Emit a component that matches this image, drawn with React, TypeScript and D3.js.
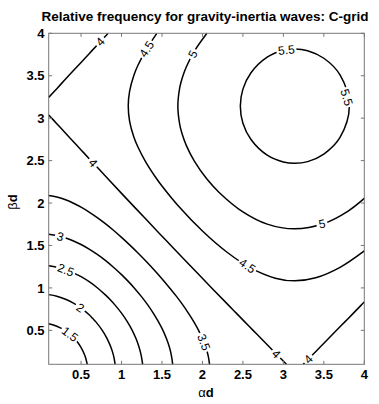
import React from "react";
import * as d3 from "d3";

// Contour levels of the relative frequency ω/f
const levels = [1.5, 2, 2.5, 3, 3.5, 4, 4.5, 5, 5.5];

// Contour lines, as [αd, βd] points
const line15: [number, number][] = [[0.1, 0.577], [0.2, 0.548], [0.3, 0.499], [0.368, 0.45], [0.411, 0.411], [0.45, 0.368], [0.499, 0.3], [0.548, 0.2], [0.577, 0.1]];
const line20: [number, number][] = [[0.1, 0.921], [0.2, 0.902], [0.3, 0.869], [0.4, 0.823], [0.5, 0.762], [0.6, 0.683], [0.642, 0.642], [0.683, 0.6], [0.762, 0.5], [0.823, 0.4], [0.869, 0.3], [0.902, 0.2], [0.921, 0.1]];
const line25: [number, number][] = [[0.1, 1.261], [0.2, 1.244], [0.3, 1.217], [0.4, 1.18], [0.5, 1.132], [0.6, 1.073], [0.7, 1.002], [0.8, 0.918], [0.861, 0.861], [0.918, 0.8], [1.002, 0.7], [1.073, 0.6], [1.132, 0.5], [1.18, 0.4], [1.217, 0.3], [1.244, 0.2], [1.261, 0.1]];
const line30: [number, number][] = [[0.1, 1.632], [0.2, 1.617], [0.3, 1.592], [0.4, 1.556], [0.5, 1.512], [0.6, 1.457], [0.7, 1.394], [0.8, 1.324], [0.9, 1.244], [1.0, 1.157], [1.08, 1.08], [1.157, 1.0], [1.244, 0.9], [1.324, 0.8], [1.394, 0.7], [1.457, 0.6], [1.512, 0.5], [1.556, 0.4], [1.592, 0.3], [1.617, 0.2], [1.632, 0.1]];
const line35: [number, number][] = [[0.1, 2.088], [0.2, 2.071], [0.3, 2.041], [0.4, 2.001], [0.5, 1.952], [0.6, 1.894], [0.7, 1.828], [0.8, 1.757], [0.9, 1.679], [1.0, 1.595], [1.1, 1.507], [1.2, 1.415], [1.309, 1.309], [1.415, 1.2], [1.507, 1.1], [1.595, 1.0], [1.679, 0.9], [1.757, 0.8], [1.828, 0.7], [1.894, 0.6], [1.952, 0.5], [2.001, 0.4], [2.041, 0.3], [2.071, 0.2], [2.088, 0.1]];
const line40a: [number, number][] = [[0.1, 3.038], [0.2, 2.935], [0.3, 2.831], [0.4, 2.728], [0.5, 2.626], [0.6, 2.523], [0.7, 2.421], [0.8, 2.318], [1.0, 2.114], [1.3, 1.811], [1.555, 1.555], [1.811, 1.3], [2.114, 1.0], [2.318, 0.8], [2.421, 0.7], [2.523, 0.6], [2.626, 0.5], [2.728, 0.4], [2.831, 0.3], [2.935, 0.2], [3.038, 0.1]];
const line40b: [number, number][] = [[0.1, 3.245], [0.2, 3.348], [0.3, 3.452], [0.4, 3.555], [0.5, 3.657], [0.6, 3.76], [0.7, 3.863], [0.8, 3.965], [0.834, 4.0]];
const line40c: [number, number][] = [[3.245, 0.1], [3.348, 0.2], [3.452, 0.3], [3.555, 0.4], [3.657, 0.5], [3.76, 0.6], [3.863, 0.7], [3.965, 0.8], [4.0, 0.834]];
const line45: [number, number][] = [[1.436, 4.0], [1.3, 3.8], [1.2, 3.617], [1.15, 3.498], [1.1, 3.32], [1.083, 3.142], [1.1, 2.963], [1.15, 2.785], [1.2, 2.666], [1.3, 2.483], [1.436, 2.283], [1.5, 2.2], [1.7, 1.967], [2.0, 1.67], [2.3, 1.423], [2.6, 1.233], [2.9, 1.115], [3.14, 1.083], [3.4, 1.119], [3.7, 1.242], [4.0, 1.436]];
const line50: [number, number][] = [[2.055, 4.0], [1.9, 3.789], [1.8, 3.603], [1.75, 3.473], [1.72, 3.362], [1.696, 3.142], [1.72, 2.921], [1.75, 2.81], [1.8, 2.68], [1.9, 2.494], [2.055, 2.283], [2.2, 2.131], [2.5, 1.896], [2.8, 1.752], [3.14, 1.696], [3.5, 1.759], [3.8, 1.906], [4.0, 2.055]];
const line55: [number, number][] = [[2.468, 3.142], [2.5, 3.342], [2.6, 3.535], [2.8, 3.719], [3.0, 3.8], [3.142, 3.815], [3.3, 3.795], [3.5, 3.706], [3.7, 3.51], [3.815, 3.142], [3.7, 2.773], [3.5, 2.577], [3.3, 2.488], [3.142, 2.468], [3.0, 2.484], [2.8, 2.564], [2.6, 2.749], [2.5, 2.941]];

const contourLines = [
  { level: 1.5, pts: line15, closed: false },
  { level: 2, pts: line20, closed: false },
  { level: 2.5, pts: line25, closed: false },
  { level: 3, pts: line30, closed: false },
  { level: 3.5, pts: line35, closed: false },
  { level: 4, pts: line40a, closed: false },
  { level: 4, pts: line40b, closed: false },
  { level: 4, pts: line40c, closed: false },
  { level: 4.5, pts: line45, closed: false },
  { level: 5, pts: line50, closed: false },
  { level: 5.5, pts: line55, closed: true },
];

// Inline label anchors: [line index, αd, βd]
const labelAnchors: [number, number, number][] = [
  [0, 0.31, 0.39],
  [1, 0.48, 0.75],
  [2, 0.29, 1.16],
  [3, 0.24, 1.59],
  [4, 1.96, 0.34],
  [5, 0.62, 2.45],
  [5, 2.89, 0.2],
  [6, 0.74, 3.9],
  [7, 3.31, 0.16],
  [8, 1.3, 3.82],
  [8, 2.54, 1.24],
  [9, 1.87, 3.76],
  [9, 3.48, 1.74],
  [10, 3.04, 3.78],
  [10, 3.8, 3.25],
];

const xTicks = [0.5, 1, 1.5, 2, 2.5, 3, 3.5, 4];
const yTicks = [0.5, 1, 1.5, 2, 2.5, 3, 3.5, 4];

const W = 379;
const H = 404;
const left = 48.7;
const right = 364.3;
const top = 33.3;
const bottom = 364.3;

export default function App() {
  const x = d3.scaleLinear().domain([0.1, 4]).range([left, right]);
  const y = d3.scaleLinear().domain([0.1, 4]).range([bottom, top]);

  const openLine = d3
    .line<[number, number]>()
    .x((d) => x(d[0]))
    .y((d) => y(d[1]))
    .curve(d3.curveCatmullRom.alpha(0.5));
  const closedLine = d3
    .line<[number, number]>()
    .x((d) => x(d[0]))
    .y((d) => y(d[1]))
    .curve(d3.curveCatmullRomClosed.alpha(0.5));

  // place each label on its line, rotated along the local direction
  const labels = labelAnchors.map(([li, a, b], i) => {
    const c = contourLines[li];
    const px = x(a);
    const py = y(b);
    const pts = c.pts.map((p) => [x(p[0]), y(p[1])]);
    const n = c.closed ? pts.length : pts.length - 1;
    let best = { d: Infinity, qx: px, qy: py, ang: 0 };
    for (let k = 0; k < n; k++) {
      const p0 = pts[k];
      const p1 = pts[(k + 1) % pts.length];
      const dx = p1[0] - p0[0];
      const dy = p1[1] - p0[1];
      const len2 = dx * dx + dy * dy;
      let t = ((px - p0[0]) * dx + (py - p0[1]) * dy) / len2;
      t = Math.max(0, Math.min(1, t));
      const qx = p0[0] + t * dx;
      const qy = p0[1] + t * dy;
      const dd = (qx - px) ** 2 + (qy - py) ** 2;
      if (dd < best.d) best = { d: dd, qx, qy, ang: (Math.atan2(dy, dx) * 180) / Math.PI };
    }
    let ang = best.ang;
    if (ang > 90) ang -= 180;
    if (ang <= -90) ang += 180;
    const text = String(c.level);
    const w = text.length > 1 ? 17 : 8;
    return { key: i, x: best.qx, y: best.qy, ang, text, w };
  });

  const font = "'Liberation Sans', Arial, Helvetica, sans-serif";

  return (
    <svg
      width={W}
      height={H}
      style={{ position: "absolute", left: 0, top: 0, background: "#fff" }}
      fontFamily={font}
    >
      <rect x={0} y={0} width={W} height={H} fill="#fff" />
      <text x={205} y={21} textAnchor="middle" fontSize={13.5} fontWeight="bold" fill="#000">
        Relative frequency for gravity-inertia waves: C-grid
      </text>

      <g fill="none" stroke="#000" strokeWidth={1.5}>
        {contourLines.map((c, i) => (
          <path key={i} d={(c.closed ? closedLine : openLine)(c.pts) || ""} />
        ))}
      </g>

      {labels.map((l) => (
        <g key={l.key} transform={`translate(${l.x},${l.y}) rotate(${l.ang})`}>
          <rect x={-l.w / 2 - 1.5} y={-5} width={l.w + 3} height={10} fill="#fff" />
          <text x={0} y={4.2} textAnchor="middle" fontSize={12} fill="#000">
            {l.text}
          </text>
        </g>
      ))}

      <rect
        x={left}
        y={top}
        width={right - left}
        height={bottom - top}
        fill="none"
        stroke="#777"
        strokeWidth={1}
      />
      <g stroke="#777" strokeWidth={1}>
        {xTicks.map((t) => (
          <g key={"x" + t}>
            <line x1={x(t)} x2={x(t)} y1={bottom} y2={bottom - 3.5} />
            <line x1={x(t)} x2={x(t)} y1={top} y2={top + 3.5} />
          </g>
        ))}
        {yTicks.map((t) => (
          <g key={"y" + t}>
            <line x1={left} x2={left + 3.5} y1={y(t)} y2={y(t)} />
            <line x1={right} x2={right - 3.5} y1={y(t)} y2={y(t)} />
          </g>
        ))}
      </g>
      <g fontSize={13} fontWeight="bold" fill="#000">
        {xTicks.map((t) => (
          <text key={"xl" + t} x={x(t)} y={379} textAnchor="middle">
            {String(t)}
          </text>
        ))}
        {yTicks.map((t) => (
          <text key={"yl" + t} x={44.5} y={y(t) + 4.6} textAnchor="end">
            {String(t)}
          </text>
        ))}
      </g>
      <text x={206} y={397} textAnchor="middle" fontSize={13} fill="#000">
        <tspan>α</tspan>
        <tspan fontWeight="bold">d</tspan>
      </text>
      <text
        transform="translate(17,202) rotate(-90)"
        textAnchor="middle"
        fontSize={13}
        fill="#000"
      >
        <tspan>β</tspan>
        <tspan fontWeight="bold">d</tspan>
      </text>
    </svg>
  );
}
